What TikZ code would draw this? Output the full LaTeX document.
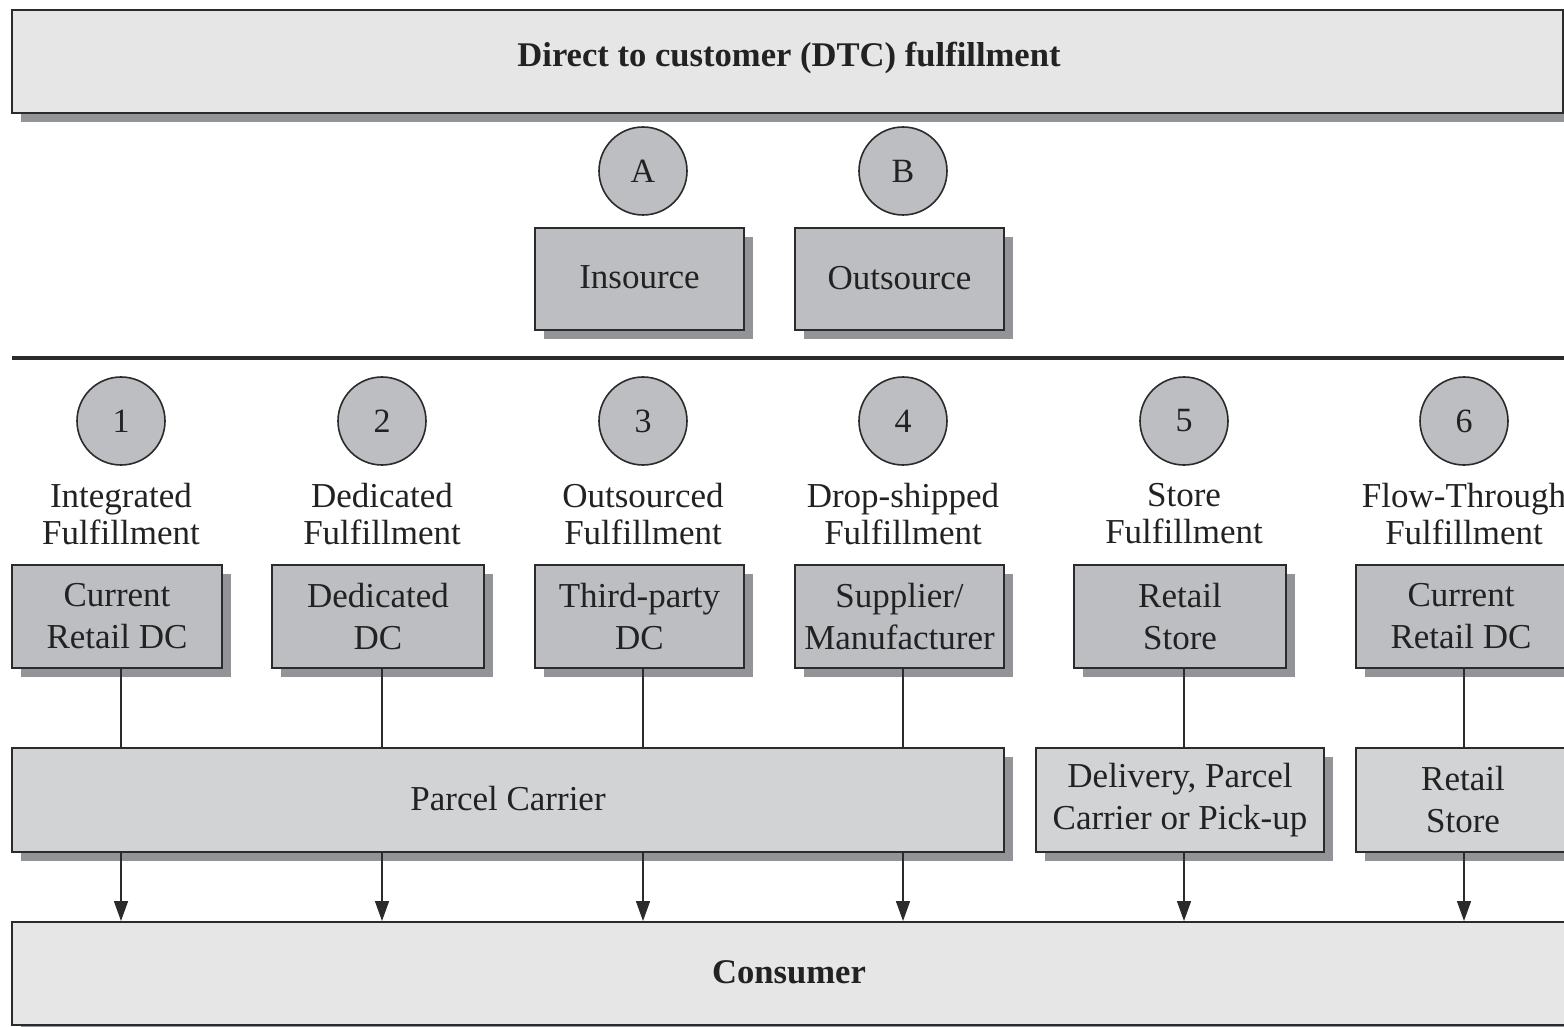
\documentclass[tikz,border=0pt]{standalone}
\usepackage{fontspec}
\setmainfont{Liberation Serif}
\usetikzlibrary{shadows,arrows.meta}
\definecolor{lightfill}{HTML}{E6E6E6}
\definecolor{midfill}{HTML}{BDBEC2}
\definecolor{palefill}{HTML}{D2D3D5}
\definecolor{shadowgray}{HTML}{939498}
\definecolor{edgecol}{HTML}{2B2B2B}
\definecolor{textcol}{HTML}{222222}
\begin{document}
\begin{tikzpicture}[x=0.5pt,y=-0.5pt,
  font=\fontsize{17.5}{21}\selectfont, text=textcol,
  box/.style={rectangle,draw=edgecol,line width=1pt,inner sep=0pt,align=center,
    drop shadow={shadow xshift=4.5pt,shadow yshift=-4.5pt,fill=shadowgray,opacity=1}},
  bigbox/.style={box,fill=lightfill,minimum height=51.5pt},
  boldtxt/.style={font=\fontsize{17.3}{20}\selectfont\bfseries,inner sep=0pt},
  srcbox/.style={box,fill=midfill,minimum width=104.5pt,minimum height=51pt},
  dcbox/.style={box,fill=midfill,minimum height=51.5pt},
  carbox/.style={box,fill=palefill,minimum height=52pt},
  numcirc/.style={circle,draw=edgecol,line width=0.8pt,fill=midfill,minimum size=44pt,inner sep=0pt,font=\fontsize{17}{20}\selectfont},
  lbl/.style={align=center,inner sep=0pt,font=\fontsize{17.5}{18.5}\selectfont},
  conn/.style={draw=edgecol,line width=0.8pt},
  arr/.style={conn,-{Triangle[length=10pt,width=7pt]}}
]
\clip (0,0) rectangle (1564,1027);
\fill[white] (0,0) rectangle (1564,1027);

% top
\node[bigbox,minimum width=775.5pt] (top) at (787.5,61.5) {};
\node[boldtxt] (topl) at (789,58) {Direct to customer (DTC) fulfillment};
\node[numcirc] (cA) at (643,171) {A};
\node[numcirc] (cB) at (903,171) {B};
\node[srcbox] (ins) at (639.5,279) {\raisebox{1.5pt}{Insource}};
\node[srcbox] (outs) at (899.5,279) {\raisebox{1.5pt}{Outsource}};

\draw[edgecol,line width=1.6pt] (12,358) -- (1575,358);

% circles
\node[numcirc] (c1) at (121,421) {1};
\node[numcirc] (c2) at (382,421) {2};
\node[numcirc] (c3) at (643,421) {3};
\node[numcirc] (c4) at (903,421) {4};
\node[numcirc] (c5) at (1184,421) {5};
\node[numcirc] (c6) at (1464,421) {6};

% labels
\node[lbl] (l1) at (121,514) {Integrated\\Fulfillment};
\node[lbl] (l2) at (382,514) {Dedicated\\Fulfillment};
\node[lbl] (l3) at (643,514) {Outsourced\\Fulfillment};
\node[lbl] (l4) at (903,514) {Drop-shipped\\Fulfillment};
\node[lbl] (l5) at (1184,514) {Store\\Fulfillment};
\node[lbl] (l6) at (1464,514) {Flow-Through\\Fulfillment};

% source boxes
\node[dcbox,minimum width=105pt] (b1) at (117,616.5) {Current\\Retail DC};
\node[dcbox,minimum width=106pt] (b2) at (378,616.5) {Dedicated\\DC};
\node[dcbox,minimum width=104.5pt] (b3) at (639.5,616.5) {Third-party\\DC};
\node[dcbox,minimum width=104.5pt] (b4) at (899.5,616.5) {Supplier/\\Manufacturer};
\node[dcbox,minimum width=106pt] (b5) at (1180,616.5) {Retail\\Store};
\node[dcbox,minimum width=105pt] (b6) at (1461,616.5) {Current\\Retail DC};

% carriers
\node[carbox,minimum width=496pt] (pc) at (508,800) {\raisebox{2pt}{Parcel Carrier}};
\node[carbox,minimum width=144pt] (dp) at (1180,800) {Delivery, Parcel\\Carrier or Pick-up};
\node[carbox,minimum width=107pt] (rs) at (1463,800) {Retail\\Store};

% consumer
\node[bigbox,minimum width=781.5pt] (cons) at (793.5,973.5) {};
\node[boldtxt] (consl) at (789,972) {Consumer};

% connectors
\draw[conn] (c1 |- b1.south) -- (c1 |- pc.north);
\draw[conn] (c2 |- b2.south) -- (c2 |- pc.north);
\draw[conn] (c3 |- b3.south) -- (c3 |- pc.north);
\draw[conn] (c4 |- b4.south) -- (c4 |- pc.north);
\draw[conn] (c5 |- b5.south) -- (c5 |- dp.north);
\draw[conn] (c6 |- b6.south) -- (c6 |- rs.north);

\draw[arr] (c1 |- pc.south) -- (c1 |- cons.north);
\draw[arr] (c2 |- pc.south) -- (c2 |- cons.north);
\draw[arr] (c3 |- pc.south) -- (c3 |- cons.north);
\draw[arr] (c4 |- pc.south) -- (c4 |- cons.north);
\draw[arr] (c5 |- dp.south) -- (c5 |- cons.north);
\draw[arr] (c6 |- rs.south) -- (c6 |- cons.north);
\end{tikzpicture}
\end{document}
